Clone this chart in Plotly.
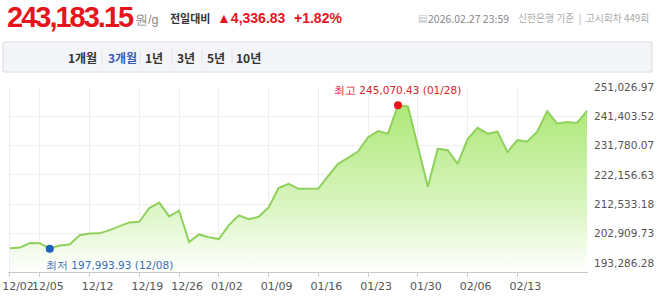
import plotly.graph_objects as go

dates = ["12/02","12/03","12/04","12/05","12/08","12/09","12/10","12/11","12/12","12/15",
         "12/16","12/17","12/18","12/19","12/22","12/23","12/24","12/26","12/29","12/30",
         "12/31","01/02","01/05","01/06","01/07","01/08","01/09","01/12","01/13","01/14",
         "01/15","01/16","01/19","01/20","01/21","01/22","01/23","01/26","01/27","01/28",
         "01/29","01/30","02/02","02/03","02/04","02/05","02/06","02/09","02/10","02/11",
         "02/12","02/13","02/19","02/20","02/23","02/24","02/25","02/26","02/27"]
prices = [198150, 198350, 199846, 199800, 197993.93, 198986, 199317, 202394, 202956, 203000,
          204048, 205371, 206595, 206793, 211325, 213078, 208580, 210432, 200177, 202658,
          201732, 201137, 205702, 208910, 207620, 208447, 211491, 217842, 219264, 217610,
          217677, 217710, 221911, 225880, 227766, 229949, 234580, 236565, 235705, 245070.43,
          244637, 231000, 218272, 230776, 230280, 225814, 233919, 237624, 235705, 236367,
          229685, 233588, 233158, 236367, 243148, 239046, 239542, 239212, 243183.15]
tick_dates = ["12/02","12/05","12/12","12/19","12/26","01/02","01/09","01/16","01/23","01/30","02/06","02/13"]
y_ticks = [193286.28, 202909.73, 212533.18, 222156.63, 231780.07, 241403.52, 251026.97]
y_tick_text = ["193,286.28","202,909.73","212,533.18","222,156.63","231,780.07","241,403.52","251,026.97"]

current_price = "243,183.15"
unit = "원/g"
change_label = "전일대비"
change_value = "▲4,336.83"
change_pct = "+1.82%"
stamp_date = "2026.02.27 23:59"
stamp_rest = "신한은행 기준  |  고시회차 449회"
periods = ["1개월", "3개월", "1년", "3년", "5년", "10년"]
active_period = "3개월"

W, H = 658, 299
L, R, T, B = 8, 588, 87, 272
def px(x): return (x - L) / (R - L)
def py(y): return (B - y) / (B - T)

idx = list(range(len(dates)))
imax = prices.index(max(prices))
imin = prices.index(min(prices))
step = y_ticks[1] - y_ticks[0]
ymax = y_ticks[-1]
ymin = ymax - (B - T) * step / 29.33

fig = go.Figure()
fig.add_trace(go.Scatter(
    x=idx, y=prices, mode="lines",
    line=dict(color="#8fd15c", width=2),
    fill="tozeroy",
    fillgradient=dict(type="vertical", start=ymin, stop=max(prices),
                      colorscale=[[0, "rgba(255,255,255,1)"], [0.35, "rgba(222,246,200,1)"],
                                  [1, "rgba(172,232,118,1)"]]),
    hoverinfo="skip", showlegend=False))
fig.add_trace(go.Scatter(x=[imax], y=[prices[imax]], mode="markers",
                         marker=dict(color="#e8141c", size=8), showlegend=False, hoverinfo="skip"))
fig.add_trace(go.Scatter(x=[imin], y=[prices[imin]], mode="markers",
                         marker=dict(color="#1f5fbf", size=8), showlegend=False, hoverinfo="skip"))

ann = []
ann.append(dict(x=imax, y=prices[imax], xref="x", yref="y", text=f"최고 {prices[imax]:,.2f} ({dates[imax]})",
                showarrow=False, yshift=15, font=dict(size=10.5, color="#d9222a", family="DejaVu Sans")))
ann.append(dict(x=imin, y=prices[imin], xref="x", yref="y", text=f"최저 {prices[imin]:,.2f} ({dates[imin]})",
                showarrow=False, xanchor="left", xshift=-6, yshift=-16,
                font=dict(size=10.5, color="#3a6cb5", family="DejaVu Sans")))

def pa(x, y, text, size, color, bold=False, family="Liberation Sans", xanchor="left", spacing=None):
    if spacing is not None:
        text = f'<span style="letter-spacing:{spacing}px">{text}</span>'
    if bold:
        text = f"<b>{text}</b>"
    ann.append(dict(x=px(x), y=py(y), xref="paper", yref="paper", text=text, showarrow=False,
                    xanchor=xanchor, yanchor="middle", font=dict(size=size, color=color, family=family)))

pa(5, 17, current_price, 29, "#e8141c", bold=True, spacing=-2)
pa(133, 20, unit, 12.5, "#888888", family="Liberation Sans")
pa(168, 18, change_label, 11, "#333333", bold=True, family="Noto Sans CJK KR")
pa(215, 18, change_value, 14, "#e8141c", bold=True)
pa(292, 18, change_pct, 14, "#e8141c", bold=True)
pa(416, 18, "▤", 10, "#bbbbbb", family="DejaVu Sans")
pa(426, 18, stamp_date, 10.5, "#888888", family="Noto Sans CJK KR")
pa(651, 18, stamp_rest, 9.8, "#aaaaaa", family="Noto Sans CJK KR", xanchor="right")

shapes = [dict(type="rect", xref="paper", yref="paper", x0=px(3), x1=px(652), y0=py(72), y1=py(42),
               fillcolor="#f4f5f8", line=dict(color="#dcdcdc", width=1), layer="below")]
bx = [68, 108, 145, 177, 207, 236]
seps = [102, 140, 172, 202, 232]
for x, p in zip(bx, periods):
    pa(x - 2, 57, p, 12, "#3b5bb5" if p == active_period else "#333333", bold=True, family="Noto Sans CJK KR")
for s in seps:
    shapes.append(dict(type="line", xref="paper", yref="paper", x0=px(s), x1=px(s), y0=py(65), y1=py(49),
                       line=dict(color="#e2e2e2", width=1)))

tickvals = [dates.index(d) for d in tick_dates]
fig.update_layout(
    width=W, height=H, margin=dict(l=L, r=W - R, t=T, b=H - B, autoexpand=False),
    paper_bgcolor="white", plot_bgcolor="white",
    annotations=ann, shapes=shapes,
    xaxis=dict(range=[-0.2, len(dates) - 1 + 0.1], tickvals=tickvals, ticktext=tick_dates,
               showgrid=True, gridcolor="#eeeeee", gridwidth=1, zeroline=False, automargin=False,
               showline=True, linecolor="#c8c8c8", ticks="outside", ticklen=4, tickcolor="#cccccc",
               ticklabelshift=8, ticklabeloverflow="allow", tickangle=0,
               tickfont=dict(size=11, color="#555555", family="DejaVu Sans")),
    yaxis=dict(range=[ymin, ymax], tickvals=y_ticks, ticktext=y_tick_text, side="right",
               showgrid=True, gridcolor="#eeeeee", gridwidth=1, zeroline=False, showline=False,
               ticks="", ticklabelstandoff=5, automargin=False, ticklabeloverflow="allow",
               tickfont=dict(size=10.5, color="#555555", family="DejaVu Sans")),
)
fig.write_html("out.html")
